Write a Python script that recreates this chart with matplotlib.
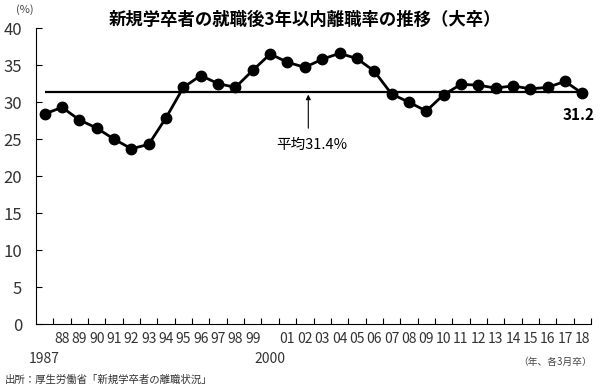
import matplotlib
matplotlib.use('Agg')
import matplotlib.pyplot as plt

plt.rcParams['font.family'] = ['Noto Sans CJK JP', 'DejaVu Sans']

# 3-year turnover rate of new university graduates (March graduates)
years = list(range(1987, 2019))
rates = [28.4, 29.3, 27.6, 26.5, 25.0, 23.7, 24.3, 27.9, 32.0, 33.6, 32.5, 32.0,
         34.3, 36.5, 35.4, 34.7, 35.8, 36.6, 35.9, 34.2, 31.1, 30.0, 28.8, 31.0,
         32.4, 32.3, 31.9, 32.2, 31.8, 32.0, 32.8, 31.2]
average = 31.4
tick_labels = ['' if y in (1987, 2000) else '%02d' % (y % 100) for y in years]
long_labels = ['1987', '2000']

fig = plt.figure(figsize=(6, 3.91), dpi=100)
ax = fig.add_axes([0.06, 0.171, 0.925, 0.757])

xs = list(range(len(years)))
ax.plot(xs, rates, color='black', lw=2, marker='o', ms=7.5, zorder=3)
ax.hlines(average, xs[0], xs[-1], color='black', lw=1.6, zorder=2)

ax.set_xlim(-0.5, len(years) - 0.5)
ax.set_ylim(0, 40)
ax.set_yticks(range(0, 41, 5))
ax.set_xticks(xs)
ax.set_xticklabels(tick_labels, fontsize=10, color='#333333')
ax.set_xticks([i + 0.5 for i in xs], minor=True)
ax.tick_params(axis='x', which='major', length=0, pad=6)
ax.tick_params(axis='x', which='minor', direction='in', length=4, width=0.8)
ax.tick_params(axis='y', direction='in', length=4, width=0.8, labelsize=12,
               labelcolor='#333333', pad=10)
for s in ['top', 'right']:
    ax.spines[s].set_visible(False)
for s in ['left', 'bottom']:
    ax.spines[s].set_linewidth(0.8)

for lab in long_labels:
    i = years.index(int(lab))
    ax.annotate(lab, (i, 0), xycoords='data', xytext=(0, -25),
                textcoords='offset points', ha='center', va='center',
                fontsize=10, color='#333333')

# annotations
ax.annotate('', xy=(15.2, average), xytext=(15.2, 26.1),
            arrowprops=dict(arrowstyle='-|>', color='black', lw=0.8,
                            mutation_scale=7))
ax.text(15.4, 24.2, '平均31.4%', ha='center', va='center', fontsize=10.5)
ax.text(31.7, 28.3, '31.2', ha='right', va='center', fontsize=11, fontweight='bold')

fig.text(0.508, 0.948, '新規学卒者の就職後3年以内離職率の推移（大卒）',
         ha='center', va='center', fontsize=12.5, fontweight='bold')
fig.text(0.042, 0.975, '(%)', ha='center', va='center', fontsize=8, color='#444444')
fig.text(0.925, 0.075, '（年、各3月卒）', ha='center', va='center', fontsize=7,
         color='#444444')
fig.text(0.008, 0.028, '出所：厚生労働省「新規学卒者の離職状況」', ha='left',
         va='center', fontsize=7.5, color='#333333')

fig.savefig('out.png', dpi=100, facecolor='white')
